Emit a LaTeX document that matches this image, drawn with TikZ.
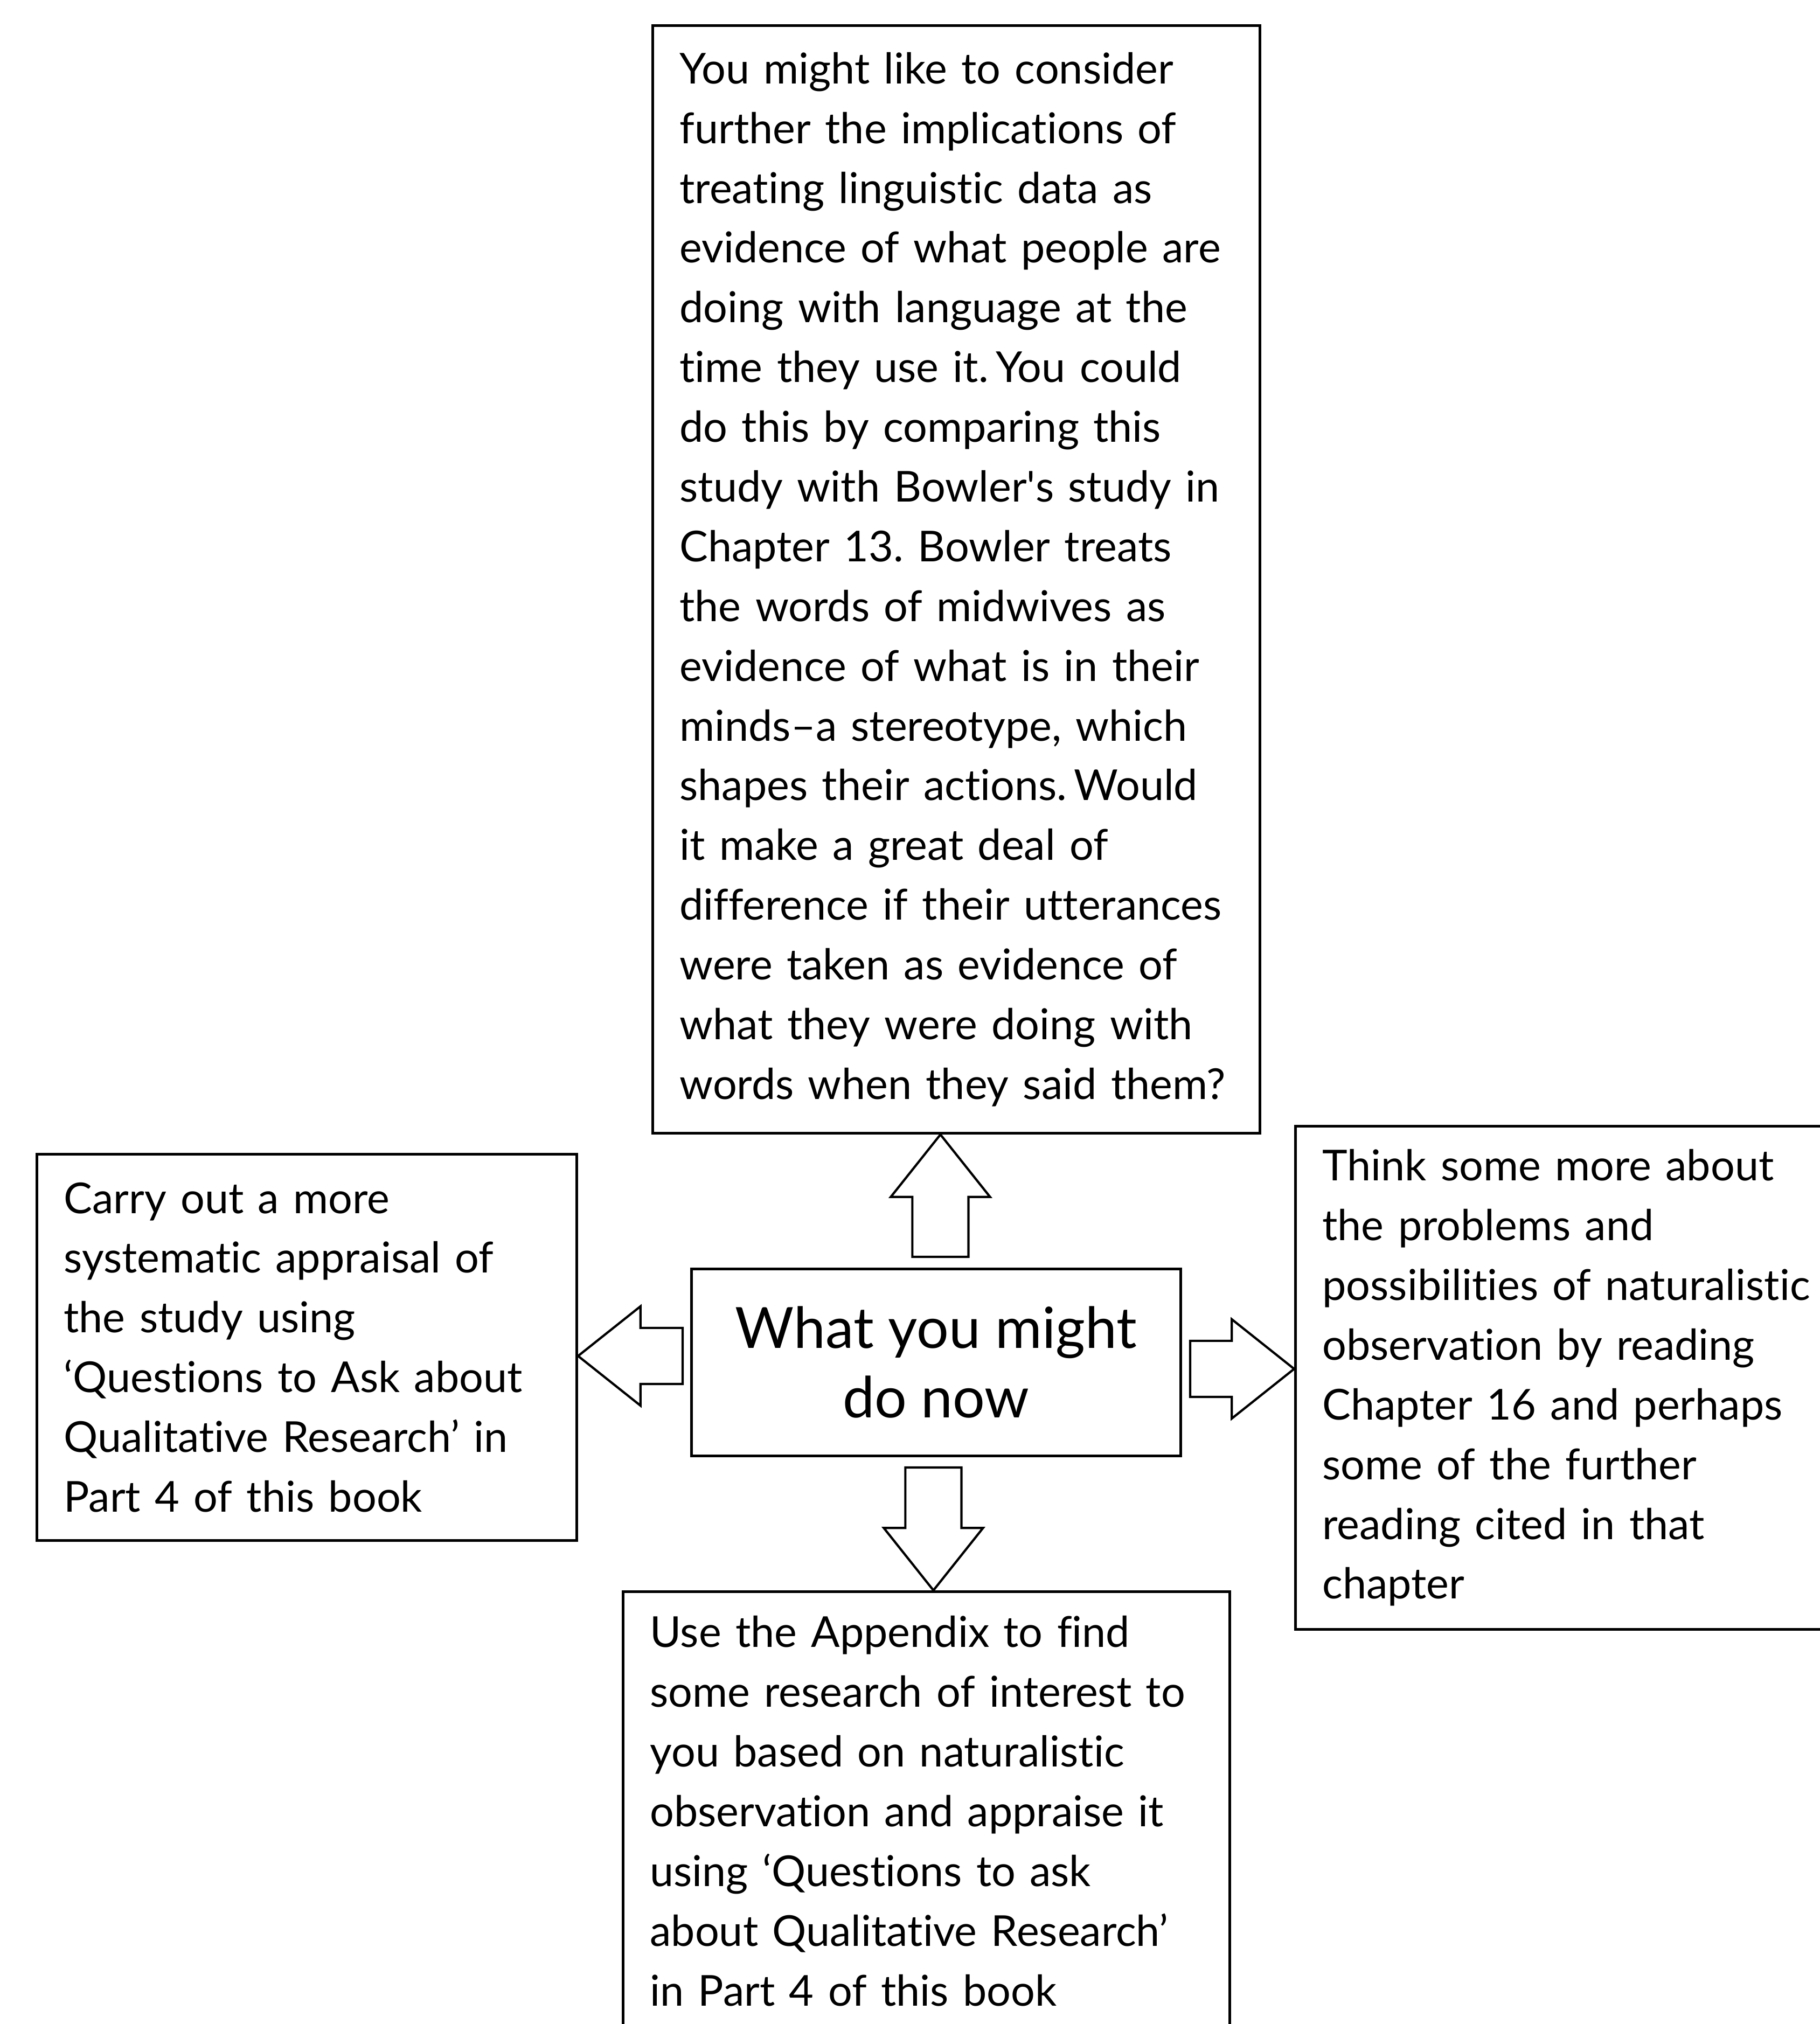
\documentclass[tikz,border=0pt]{standalone}
\usepackage{fontspec}
\setmainfont{Lato}[Ligatures={NoCommon}]
\newfontfamily\plainlato{Lato}[Ligatures={NoCommon}]
\usetikzlibrary{shapes.arrows}
\tikzstyle{textbox} = [
    rectangle,
    draw=black,
    line width=1.4pt,
    align=left,
    inner xsep=0.5cm,
    anchor=north west,
    font=\fontsize{22.5}{31.55}\selectfont\frenchspacing
]
\tikzstyle{titlebox} = [
    rectangle,
    draw=black,
    line width=1.4pt,
    align=center,
    anchor=north west,
    font=\fontsize{30}{36.7}\selectfont
]
\tikzstyle{hollowarrow} = [
    single arrow,
    draw=black,
    line width=1.2pt,
    inner xsep=0pt,
    inner ysep=0.5cm,
    outer sep=0pt,
    minimum width=0pt,
    single arrow head extend=0.4cm,
    single arrow tip angle=77,
    anchor=tip
]
\newcommand{\apos}{{\plainlato\char"27}}

\begin{document}
\begin{tikzpicture}

\useasboundingbox (0,0) rectangle (33.78,-37.57);

\node (top) [textbox, text width=10.27cm, minimum height=20.56cm] at (12.09,-0.45)
{You might like to consider\\
further the implications of\\
treating linguistic data as\\
evidence of what people are\\
doing with language at the\\
time they use it.\,You could\\
do this by comparing this\\
study with Bowler\apos s study in\\
Chapter 13. Bowler treats\\
the words of midwives as\\
evidence of what is in their\\
minds–a stereotype, which\\
shapes their actions.\,Would\\
it make a great deal of\\
difference if their utterances\\
were taken as evidence of\\
what they were doing with\\
words when they said them?};

\node (centre) [titlebox, minimum width=9.08cm, minimum height=3.47cm] at (12.81,-23.53)
{What you might\\ do now};

\node (left) [textbox, text width=9.02cm, minimum height=7.17cm] at (0.66,-21.40)
{Carry out a more\\
systematic appraisal of\\
the study using\\
‘Questions to Ask about\\
Qualitative Research’ in\\
Part 4 of this book};

\node (right) [textbox, text width=9.2cm, minimum height=9.34cm] at (24.02,-20.88)
{Think some more about\\
the problems and\\
possibilities of naturalistic\\
observation by reading\\
Chapter 16 and perhaps\\
some of the further\\
reading cited in that\\
chapter};

\node (bottom) [textbox, text width=10.26cm, inner ysep=0.45cm, text depth=7cm] at (11.54,-29.52)
{Use the Appendix to find\\
some research of interest to\\
you based on naturalistic\\
observation and appraise it\\
using ‘Questions to ask\\
about Qualitative Research’\\
in Part 4 of this book};

\node (upArrow) [hollowarrow, rotate=90, minimum height=2.27cm]
at ([xshift=0.08cm]top.south -| centre.north) {};
\node (downArrow) [hollowarrow, rotate=-90, minimum height=2.28cm]
at ([xshift=-0.05cm]bottom.north -| centre.south) {};
\node (leftArrow) [hollowarrow, rotate=180, minimum height=1.94cm]
at ([yshift=0.12cm]left.east |- centre.west) {};
\node (rightArrow) [hollowarrow, minimum height=1.93cm]
at ([yshift=-0.12cm]right.west |- centre.east) {};

\end{tikzpicture}
\end{document}
